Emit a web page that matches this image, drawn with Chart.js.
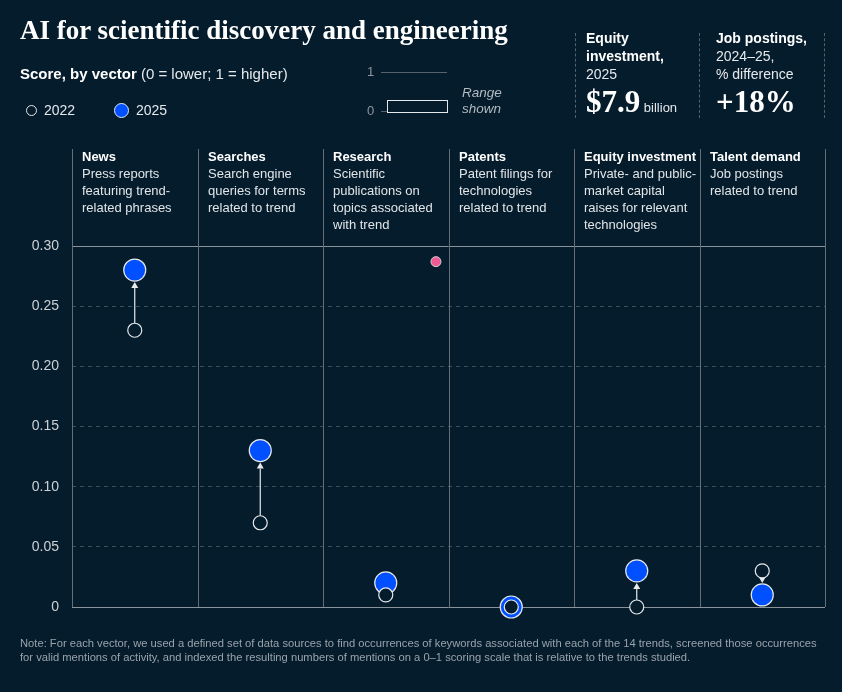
<!DOCTYPE html>
<html>
<head>
<meta charset="utf-8">
<script src="https://cdn.jsdelivr.net/npm/chart.js@4.4.1/dist/chart.umd.min.js"></script>
<style>
  body { margin: 0; background: #051c2c; }
  #wrap { position: relative; width: 842px; height: 692px; background: #051c2c; overflow: hidden;
          font-family: "Liberation Sans", Arial, sans-serif; color: #fff; }
  #wrap canvas { position: absolute; left: 0; top: 0; }
  .abs { position: absolute; white-space: nowrap; }
  .title { left: 20px; top: 15px; font-family: "Liberation Serif", serif; font-weight: bold; font-size: 27px; line-height: 30px; }
  .subtitle { left: 20px; top: 65px; font-size: 15px; line-height: 18px; color: #e6e9ec; }
  .subtitle b { color: #fff; }
  .leg { top: 101px; font-size: 14px; line-height: 18px; color: #e6e9ec; }
  .dot { position: absolute; border-radius: 50%; box-sizing: border-box; }
  .rng { font-size: 13px; line-height: 16px; color: #8d969e; }
  .rngtxt { font-size: 13.5px; line-height: 16px; color: #b3bac0; font-style: italic; }
  .stat { top: 29px; font-size: 14px; line-height: 18px; color: #e6e9ec; }
  .stat b { color: #fff; }
  .big { font-family: "Liberation Serif", serif; font-weight: bold; font-size: 31px; line-height: 32px; color: #fff; }
  .vline { position: absolute; top: 33px; height: 85px; border-left: 1px dashed #55616b; }
  .colhead { position: absolute; top: 148px; font-size: 13px; line-height: 17px; color: #e1e5e8; white-space: nowrap; }
  .colhead b { color: #fff; }
  .note { left: 20px; top: 636px; font-family: "Liberation Sans Narrow", "Liberation Sans", sans-serif; font-size: 11.2px; line-height: 14px; color: #9aa3ab; }
</style>
</head>
<body>
<div id="wrap">
  <canvas id="chart" width="842" height="692"></canvas>

  <div class="abs title">AI for scientific discovery and engineering</div>
  <div class="abs subtitle"><b>Score, by vector</b> (0 = lower; 1 = higher)</div>

  <div class="dot" style="left:26px;top:105px;width:11px;height:11px;border:1.2px solid #e6e9ec;"></div>
  <div class="abs leg" style="left:44px;">2022</div>
  <div class="dot" style="left:114px;top:103px;width:15px;height:15px;background:#0050ff;border:1px solid #e6e9ec;"></div>
  <div class="abs leg" style="left:136px;">2025</div>

  <div class="abs rng" style="left:367px;top:64px;">1</div>
  <div class="abs" style="left:381px;top:72px;width:66px;border-top:1px solid #56626c;"></div>
  <div class="abs rng" style="left:367px;top:103px;">0</div>
  <div class="abs" style="left:381px;top:111px;width:7px;border-top:1px solid #56626c;"></div>
  <div class="abs" style="left:387px;top:100px;width:59px;height:11px;border:1px solid #e6e9ec;"></div>
  <div class="abs rngtxt" style="left:462px;top:85px;">Range</div>
  <div class="abs rngtxt" style="left:462px;top:101px;">shown</div>

  <div class="vline" style="left:575px;"></div>
  <div class="vline" style="left:699px;"></div>
  <div class="vline" style="left:824px;"></div>
  <div class="abs stat" style="left:586px;"><b>Equity<br>investment,</b><br>2025</div>
  <div class="abs big" style="left:586px;top:86px;">$7.9<span style="font-family:'Liberation Sans',Arial,sans-serif;font-weight:normal;font-size:13px;color:#e6e9ec;"> billion</span></div>
  <div class="abs stat" style="left:716px;"><b>Job postings,</b><br>2024–25,<br>% difference</div>
  <div class="abs big" style="left:716px;top:86px;">+18%</div>

  <div class="abs note">Note: For each vector, we used a defined set of data sources to find occurrences of keywords associated with each of the 14 trends, screened those occurrences<br>for valid mentions of activity, and indexed the resulting numbers of mentions on a 0–1 scoring scale that is relative to the trends studied.</div>
</div>

<script>
// Data
const vectors = ["News", "Searches", "Research", "Patents", "Equity investment", "Talent demand"];
const descriptions = [
  ["Press reports", "featuring trend-", "related phrases"],
  ["Search engine", "queries for terms", "related to trend"],
  ["Scientific", "publications on", "topics associated", "with trend"],
  ["Patent filings for", "technologies", "related to trend"],
  ["Private- and public-", "market capital", "raises for relevant", "technologies"],
  ["Job postings", "related to trend"],
];
const score2022 = [0.23, 0.07, 0.01, 0, 0, 0.03];
const score2025 = [0.28, 0.13, 0.02, 0, 0.03, 0.01];
// small pink marker in the Research column
const extraMarker = [{ x: 2.4, y: 0.287 }];
const yTicks = [0, 0.05, 0.1, 0.15, 0.2, 0.25, 0.3];
const yTickLabels = ["0", "0.05", "0.10", "0.15", "0.20", "0.25", "0.30"];

const R2022 = 7;
const R2025 = 11;

// vertical column dividers, from header area down to the axis
const columnLines = {
  id: "columnLines",
  beforeDatasetsDraw(chart) {
    const { ctx, scales: { x, y } } = chart;
    ctx.save();
    ctx.strokeStyle = "#646e77";
    ctx.lineWidth = 1;
    for (let i = 0; i <= vectors.length; i++) {
      const px = Math.round(x.getPixelForValue(i - 0.5)) + 0.5;
      ctx.beginPath();
      ctx.moveTo(px, 149);
      ctx.lineTo(px, y.bottom);
      ctx.stroke();
    }
    ctx.restore();
  },
};

// arrows from 2022 to 2025
const changeArrows = {
  id: "changeArrows",
  beforeDatasetsDraw(chart) {
    const { ctx, scales: { x, y } } = chart;
    ctx.save();
    ctx.strokeStyle = "#e8eaec";
    ctx.fillStyle = "#e8eaec";
    ctx.lineWidth = 1.2;
    score2022.forEach((v, i) => {
      const y1 = y.getPixelForValue(v);
      const y2 = y.getPixelForValue(score2025[i]);
      const dist = Math.abs(y2 - y1);
      if (dist < R2022 + R2025 + 4) return;
      const dir = y2 < y1 ? -1 : 1;
      const px = x.getPixelForValue(i);
      const tip = y2 - dir * (R2025 + 1);
      const head = 6;
      ctx.beginPath();
      ctx.moveTo(px, y1 + dir * R2022);
      ctx.lineTo(px, tip - dir * head);
      ctx.stroke();
      ctx.beginPath();
      ctx.moveTo(px, tip);
      ctx.lineTo(px - 3.5, tip - dir * head);
      ctx.lineTo(px + 3.5, tip - dir * head);
      ctx.closePath();
      ctx.fill();
    });
    ctx.restore();
  },
};

const isEdge = (v) => Math.abs(v) < 1e-9 || Math.abs(v - 0.3) < 1e-9;

const chart = new Chart(document.getElementById("chart").getContext("2d"), {
  type: "scatter",
  data: {
    datasets: [
      {
        label: "2022",
        data: score2022.map((v, i) => ({ x: i, y: v })),
        pointRadius: R2022,
        backgroundColor: "#051c2c",
        borderColor: "#e6e9ec",
        borderWidth: 1.2,
        clip: false,
      },
      {
        label: "2025",
        data: score2025.map((v, i) => ({ x: i, y: v })),
        pointRadius: R2025,
        backgroundColor: "#0050ff",
        borderColor: "#e6e9ec",
        borderWidth: 1.2,
        clip: false,
      },
      {
        label: "marker",
        data: extraMarker,
        pointRadius: 5,
        backgroundColor: "#ef5a92",
        borderColor: "#cfd3d6",
        borderWidth: 1,
        clip: false,
      },
    ],
  },
  options: {
    responsive: false,
    animation: false,
    events: [],
    layout: { padding: { left: 0, right: 17, top: 246, bottom: 85 } },
    plugins: { legend: { display: false }, tooltip: { enabled: false } },
    scales: {
      x: { type: "linear", min: -0.5, max: vectors.length - 0.5, display: false },
      y: {
        min: 0,
        max: 0.3,
        afterFit(scale) { scale.width = 72; },
        afterBuildTicks(scale) { scale.ticks = yTicks.map((v) => ({ value: v })); },
        ticks: {
          padding: 13,
          color: "#cdd2d6",
          font: { family: "Liberation Sans", size: 14 },
          callback: (v, i) => yTickLabels[i],
        },
        grid: {
          drawTicks: false,
          lineWidth: 1,
          color: (c) => (c.tick && isEdge(c.tick.value) ? "#8b939a" : "#3f4d59"),
        },
        border: {
          display: false,
          dash: (c) => (c.tick && isEdge(c.tick.value) ? [] : [4, 4]),
        },
      },
    },
  },
  plugins: [columnLines, changeArrows],
});

// column headers, placed on the chart's own x scale
const wrap = document.getElementById("wrap");
vectors.forEach((name, i) => {
  const div = document.createElement("div");
  div.className = "colhead";
  div.style.left = Math.round(chart.scales.x.getPixelForValue(i - 0.5) + 10) + "px";
  div.innerHTML = "<b>" + name + "</b><br>" + descriptions[i].join("<br>");
  wrap.appendChild(div);
});
</script>
</body>
</html>
